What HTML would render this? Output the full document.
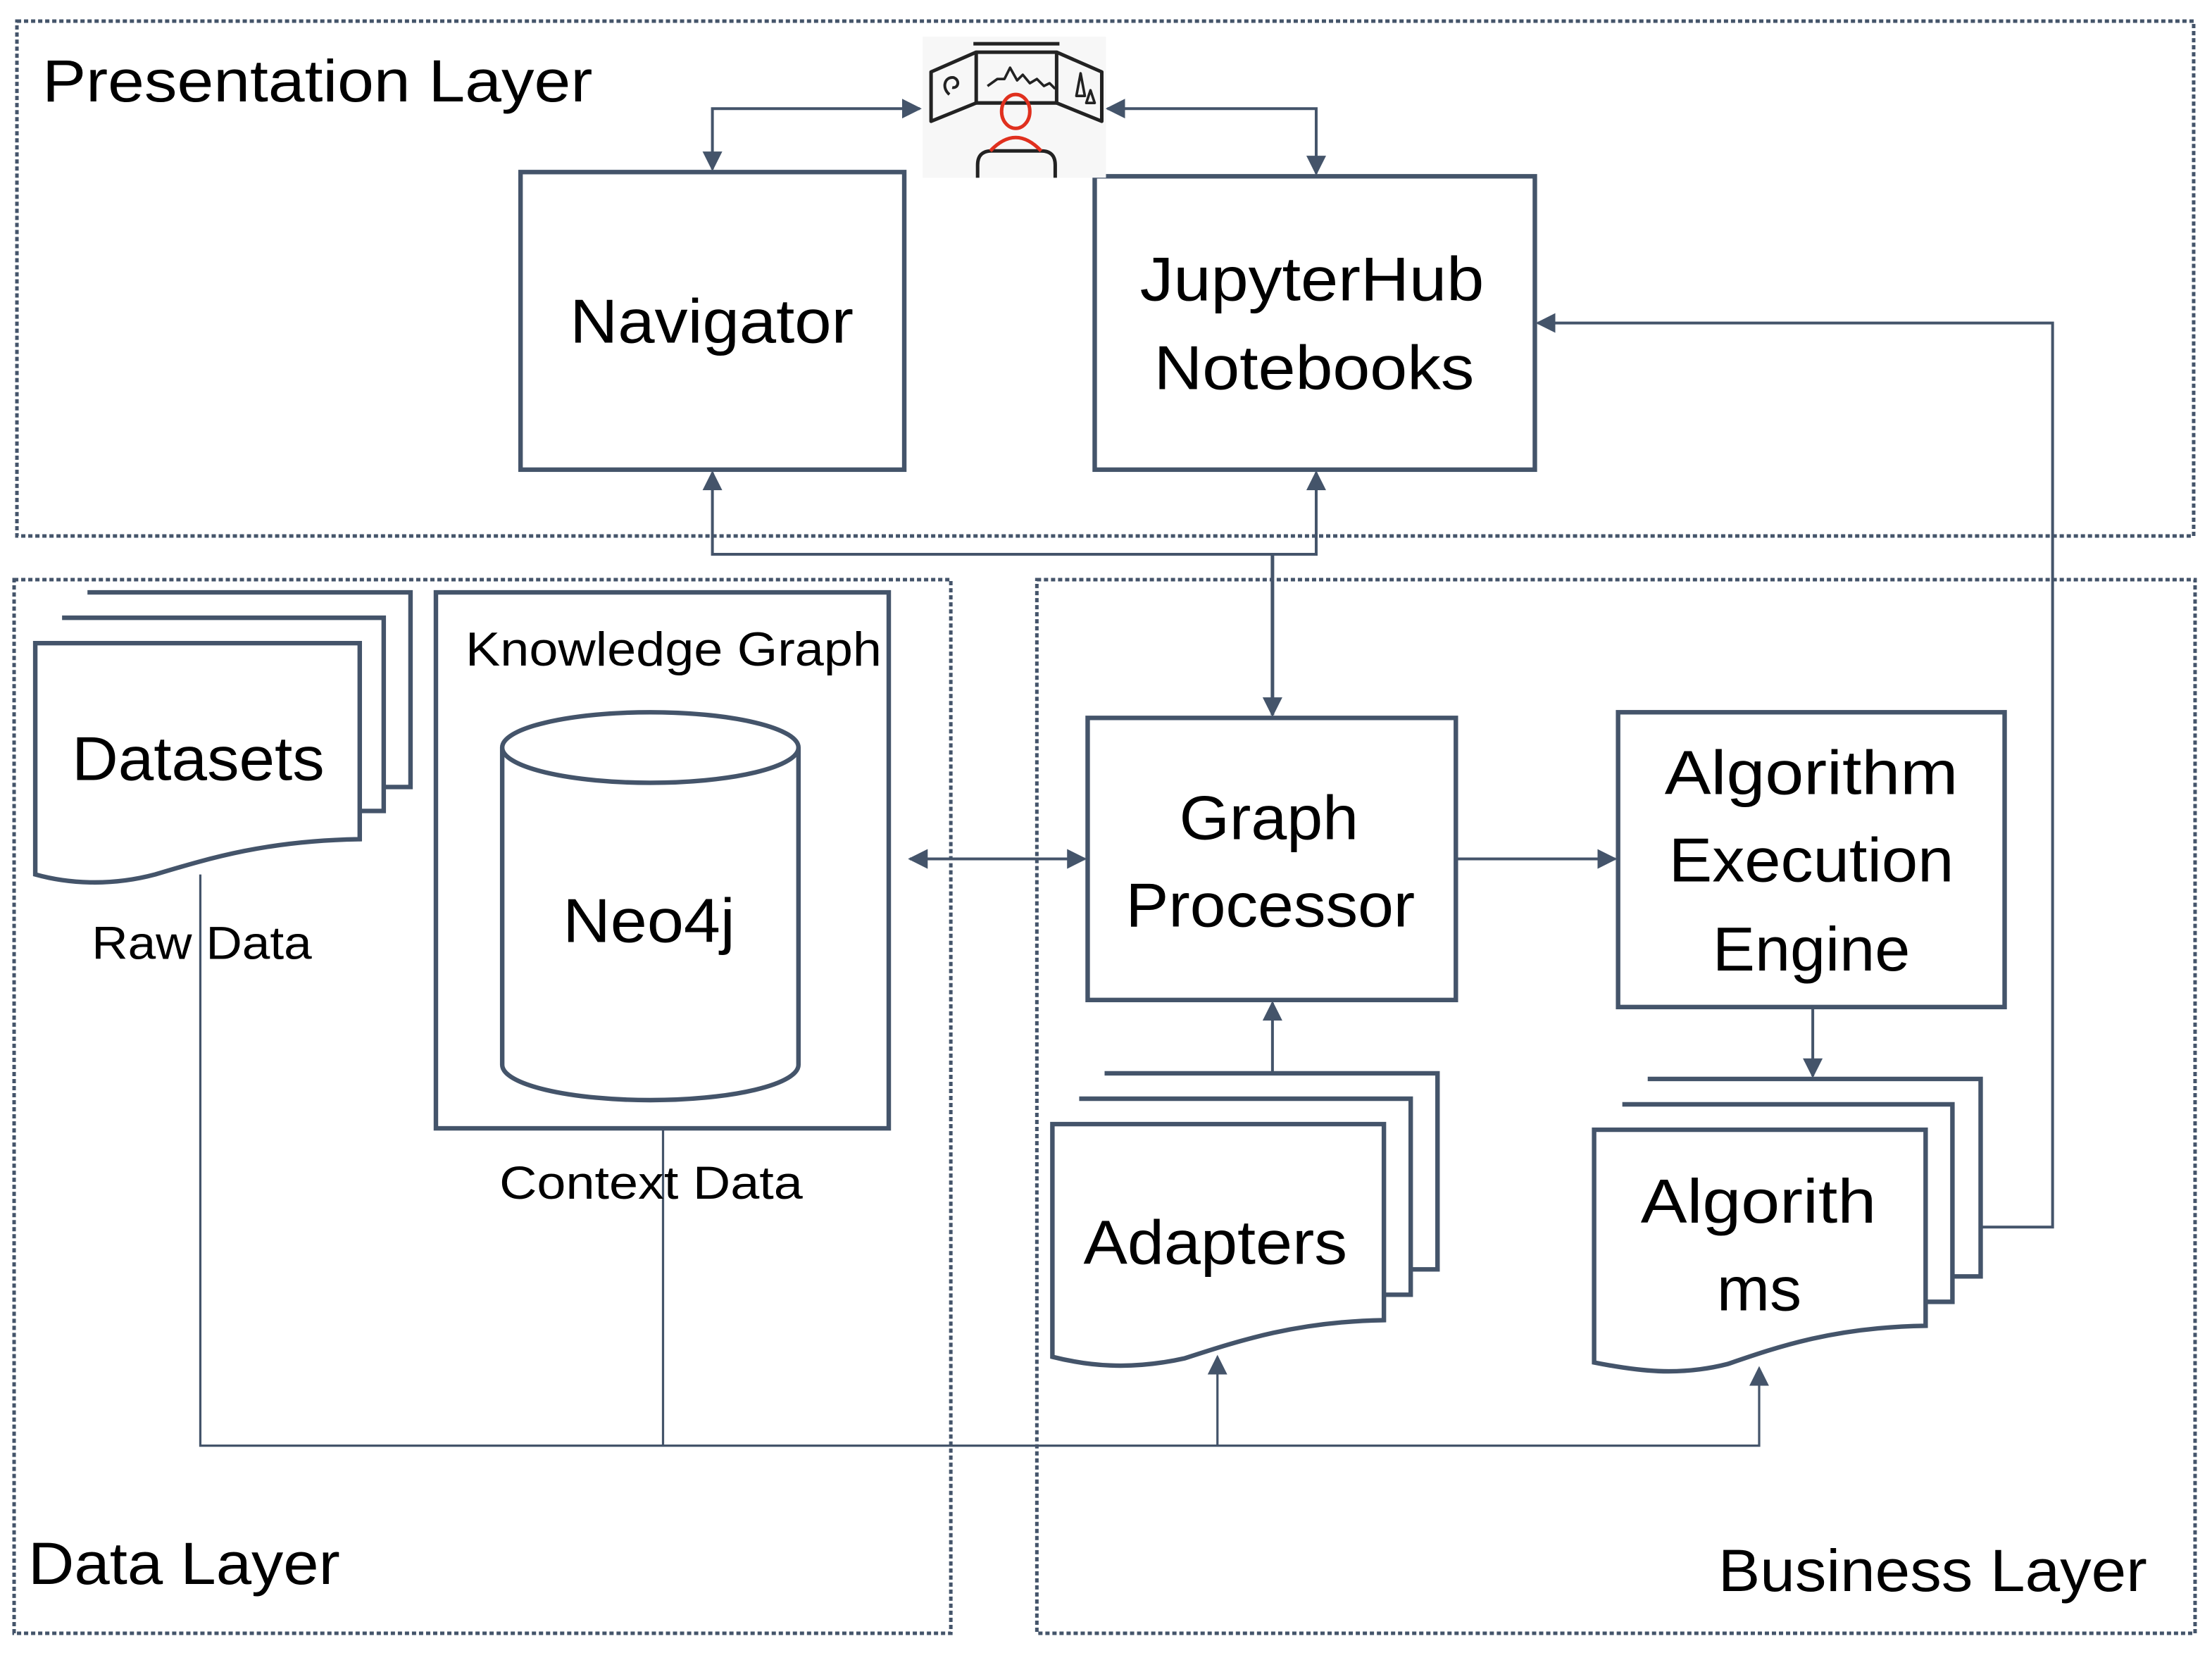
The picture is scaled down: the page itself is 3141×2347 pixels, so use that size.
<!DOCTYPE html>
<html><head><meta charset="utf-8"><style>
html,body{margin:0;padding:0;background:#fff;}
svg{display:block;}
text{font-family:"Liberation Sans",sans-serif;fill:#000;}
</style></head><body>
<svg width="3141" height="2347" viewBox="0 0 1568 1172" preserveAspectRatio="none" xmlns="http://www.w3.org/2000/svg">
<defs>
<marker id="ah" viewBox="0 0 10 10" refX="9" refY="5" markerWidth="14" markerHeight="14" orient="auto-start-reverse" markerUnits="userSpaceOnUse">
<path d="M0,0 L10,5 L0,10 Z" fill="#44546a"/></marker>
</defs>
<rect width="1568" height="1172" fill="#fff"/>
<g fill="none" stroke="#44546a" stroke-width="2.5" stroke-dasharray="3,2">
<rect x="12" y="15" width="1543" height="365"/>
<rect x="10" y="411" width="664" height="747"/>
<rect x="735" y="411" width="821" height="747"/>
</g>
<text x="30" y="72" font-size="42" textLength="390" lengthAdjust="spacingAndGlyphs">Presentation Layer</text>
<text x="20" y="1123" font-size="42" textLength="221" lengthAdjust="spacingAndGlyphs">Data Layer</text>
<text x="1218" y="1128" font-size="42" textLength="304" lengthAdjust="spacingAndGlyphs">Business Layer</text>

<g fill="none" stroke="#44546a" stroke-width="2">
<polyline points="505,120 505,77 652,77" marker-start="url(#ah)" marker-end="url(#ah)"/>
<polyline points="785,77 933,77 933,123" marker-start="url(#ah)" marker-end="url(#ah)"/>
<polyline points="505,335 505,393 933,393 933,335" marker-start="url(#ah)" marker-end="url(#ah)"/>
<line x1="902" y1="393" x2="902" y2="507" marker-end="url(#ah)" stroke-width="2.5"/>
<line x1="645" y1="609" x2="769" y2="609" marker-start="url(#ah)" marker-end="url(#ah)"/>
<line x1="1033" y1="609" x2="1145" y2="609" marker-end="url(#ah)"/>
<line x1="1285" y1="715" x2="1285" y2="763" marker-end="url(#ah)"/>
<line x1="902" y1="760" x2="902" y2="711" marker-end="url(#ah)"/>
<polyline points="1405,870 1455,870 1455,229 1090,229" marker-end="url(#ah)"/>
<polyline points="142,620 142,1025 1247,1025 1247,970" marker-end="url(#ah)" stroke-width="1.6"/>
<line x1="470" y1="801" x2="470" y2="1025" stroke-width="1.6"/>
<line x1="863" y1="1025" x2="863" y2="962" marker-end="url(#ah)" stroke-width="1.6"/>
</g>

<g fill="#fff" stroke="#44546a" stroke-width="3.2">
<rect x="369" y="122" width="272" height="211"/>
<rect x="776" y="125" width="312" height="208"/>
<rect x="771" y="509" width="261" height="200"/>
<rect x="1147" y="505" width="274" height="209"/>
<rect x="309" y="420" width="321" height="380"/>
<path d="M62,420 H291 V558 H272"/>
<path d="M44,438 H272 V575 H255"/>
<path d="M25,456 H255 V595 C190,596 150,608 110,620 C80,628 50,627 25,620 Z"/>
<path d="M783,761 H1019 V900 H1000"/>
<path d="M765,779 H1000 V918 H981"/>
<path d="M746,797 H981 V936 C920,937 880,950 840,963 C800,972 770,968 746,962 Z"/>
<path d="M1168,765 H1404 V905 H1384"/>
<path d="M1150,783 H1384 V923 H1365"/>
<path d="M1130,801 H1365 V940 C1300,941 1260,955 1225,967 C1190,976 1160,972 1130,966 Z"/>
<path d="M356,530 V755 A105,25 0 0 0 566,755 V530"/>
<ellipse cx="461" cy="530" rx="105" ry="25"/>
</g>

<text x="404" y="243" font-size="44" textLength="201" lengthAdjust="spacingAndGlyphs">Navigator</text>
<text x="808" y="213" font-size="44" textLength="244" lengthAdjust="spacingAndGlyphs">JupyterHub</text>
<text x="818" y="276" font-size="44" textLength="227" lengthAdjust="spacingAndGlyphs">Notebooks</text>
<text x="330" y="472" font-size="34" textLength="295" lengthAdjust="spacingAndGlyphs">Knowledge Graph</text>
<text x="51" y="553" font-size="44" textLength="179" lengthAdjust="spacingAndGlyphs">Datasets</text>
<text x="399" y="668" font-size="44" textLength="122" lengthAdjust="spacingAndGlyphs">Neo4j</text>
<text x="65" y="680" font-size="33" textLength="156" lengthAdjust="spacingAndGlyphs">Raw Data</text>
<text x="354" y="850" font-size="33" textLength="215" lengthAdjust="spacingAndGlyphs">Context Data</text>
<text x="836" y="595" font-size="44" textLength="127" lengthAdjust="spacingAndGlyphs">Graph</text>
<text x="798" y="657" font-size="44" textLength="205" lengthAdjust="spacingAndGlyphs">Processor</text>
<text x="1180" y="563" font-size="44" textLength="208" lengthAdjust="spacingAndGlyphs">Algorithm</text>
<text x="1183" y="625" font-size="44" textLength="202" lengthAdjust="spacingAndGlyphs">Execution</text>
<text x="1214" y="688" font-size="44" textLength="140" lengthAdjust="spacingAndGlyphs">Engine</text>
<text x="768" y="896" font-size="44" textLength="187" lengthAdjust="spacingAndGlyphs">Adapters</text>
<text x="1163" y="867" font-size="44" textLength="167" lengthAdjust="spacingAndGlyphs">Algorith</text>
<text x="1217" y="929" font-size="44" textLength="60" lengthAdjust="spacingAndGlyphs">ms</text>

<!-- icon -->
<rect x="654" y="26" width="130" height="100" fill="#f7f7f7"/>
<g fill="none" stroke="#222" stroke-width="2.5" stroke-linejoin="round">
<line x1="690" y1="31" x2="751" y2="31"/>
<rect x="692" y="37" width="57" height="36"/>
<path d="M692,37 L660,51 V86 L692,73"/>
<path d="M749,37 L781,51 V86 L749,73"/>
<path d="M700,61 L707,56 L712,56 L716,48 L721,57 L725,53 L730,59 L735,56 L740,61 L744,59 L748,63" stroke-width="1.8"/>
<path d="M673,67 C667,62 670,54 676,55 C681,57 679,63 675,62" stroke-width="2"/>
<path d="M763,68 L766,52 L769,68 Z M770,73 L773,64 L776,73 Z" stroke-width="1.8"/>
<path d="M693,126 V117 Q693,107 703,107 H738 Q748,107 748,117 V126"/>
</g>
<g fill="none" stroke="#e0301e" stroke-width="2.5">
<ellipse cx="720" cy="79" rx="10" ry="12"/>
<path d="M702,107 Q720,88 738,107"/>
</g>
</svg>
</body></html>
